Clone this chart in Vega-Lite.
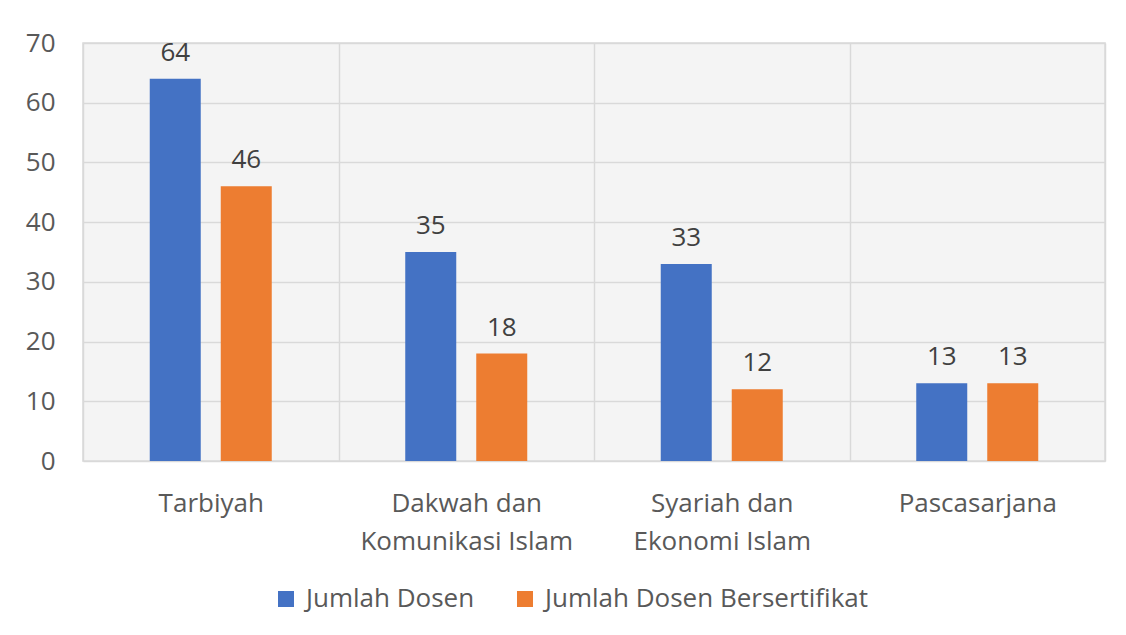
{
  "$schema": "https://vega.github.io/schema/vega-lite/v6.json",
  "width": 1022,
  "height": 418,
  "autosize": {"type": "none"},
  "padding": {"left": 83, "top": 43, "right": 21, "bottom": 174},
  "background": "white",
  "config": {
    "font": "Open Sans",
    "view": {"stroke": "#d9d9d9", "strokeWidth": 1.5, "fill": "#f4f4f4"}
  },
  "data": {
    "values": [
      {"fakultas": "Tarbiyah", "seri": "Jumlah Dosen", "nilai": 64},
      {"fakultas": "Tarbiyah", "seri": "Jumlah Dosen Bersertifikat", "nilai": 46},
      {"fakultas": "Dakwah dan|Komunikasi Islam", "seri": "Jumlah Dosen", "nilai": 35},
      {"fakultas": "Dakwah dan|Komunikasi Islam", "seri": "Jumlah Dosen Bersertifikat", "nilai": 18},
      {"fakultas": "Syariah dan|Ekonomi Islam", "seri": "Jumlah Dosen", "nilai": 33},
      {"fakultas": "Syariah dan|Ekonomi Islam", "seri": "Jumlah Dosen Bersertifikat", "nilai": 12},
      {"fakultas": "Pascasarjana", "seri": "Jumlah Dosen", "nilai": 13},
      {"fakultas": "Pascasarjana", "seri": "Jumlah Dosen Bersertifikat", "nilai": 13}
    ]
  },
  "encoding": {
    "x": {
      "field": "fakultas",
      "type": "nominal",
      "sort": null,
      "scale": {"paddingInner": 0, "paddingOuter": 0},
      "axis": {
        "title": null,
        "labelAngle": 0,
        "domain": false,
        "ticks": false,
        "grid": true,
        "tickBand": "extent",
        "gridColor": "#d9d9d9",
        "gridWidth": 1.5,
        "labelExpr": "split(datum.label, '|')",
        "labelFont": "Open Sans",
        "labelFontSize": 26,
        "labelColor": "#595959",
        "labelPadding": 29,
        "labelLineHeight": 38,
        "labelBaseline": "top",
        "labelLimit": 400
      }
    },
    "xOffset": {
      "field": "seri",
      "type": "nominal",
      "sort": null,
      "scale": {"paddingInner": 0.2817, "paddingOuter": 0.94}
    },
    "y": {
      "field": "nilai",
      "type": "quantitative",
      "scale": {"domain": [0, 70], "nice": false},
      "axis": {
        "title": null,
        "values": [0, 10, 20, 30, 40, 50, 60, 70],
        "domain": false,
        "ticks": false,
        "gridColor": "#d9d9d9",
        "gridWidth": 1.5,
        "labelFont": "Open Sans",
        "labelFontSize": 26,
        "labelColor": "#595959",
        "labelPadding": 28
      }
    }
  },
  "layer": [
    {
      "mark": {"type": "bar"},
      "encoding": {
        "color": {
          "field": "seri",
          "type": "nominal",
          "sort": null,
          "scale": {
            "domain": ["Jumlah Dosen", "Jumlah Dosen Bersertifikat"],
            "range": ["#4472C4", "#ED7D31"]
          },
          "legend": {
            "title": null,
            "orient": "none",
            "direction": "horizontal",
            "legendX": 190,
            "legendY": 543,
            "symbolType": "square",
            "symbolSize": 256,
            "symbolStrokeWidth": 0,
            "labelFont": "Open Sans",
            "labelFontSize": 26,
            "labelColor": "#595959",
            "labelOffset": 7,
            "columnPadding": 37,
            "labelLimit": 500
          }
        }
      }
    },
    {
      "mark": {"type": "text", "baseline": "alphabetic", "dy": -18, "fontSize": 26, "color": "#404040", "font": "Open Sans"},
      "encoding": {
        "text": {"field": "nilai", "type": "quantitative"}
      }
    }
  ]
}
